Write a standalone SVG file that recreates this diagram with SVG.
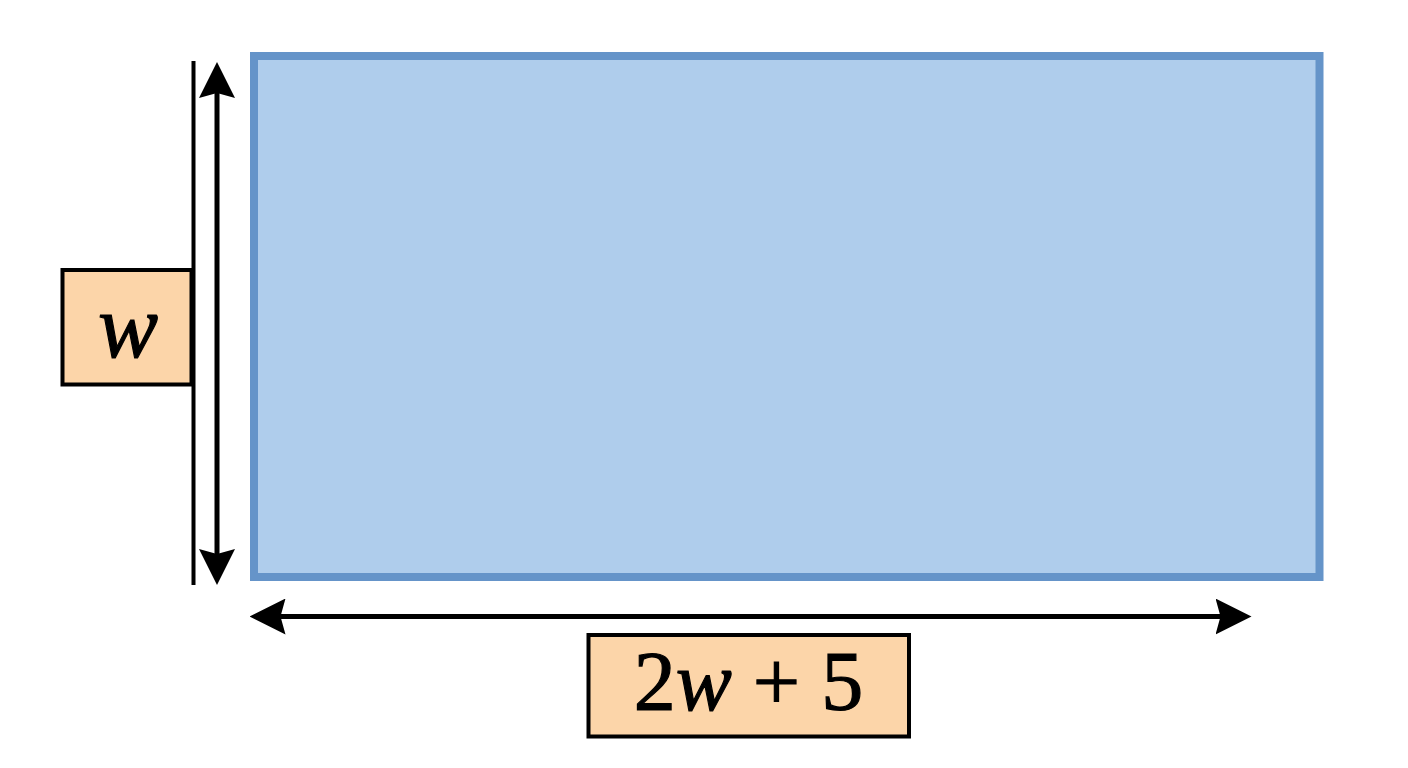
<svg xmlns="http://www.w3.org/2000/svg" width="1408" height="768" viewBox="0 0 1408 768">
<style>
.lbl{fill:#fcd5a9;stroke:#000;stroke-width:4}
.t{font-family:"Liberation Serif","DejaVu Serif",serif;fill:#000;stroke:#000;stroke-width:1.2}
.it{font-style:italic}
.ln{stroke:#000;fill:none}
</style>
<defs>
<marker id="ah" viewBox="0 0 36 36" refX="26" refY="18" markerWidth="36" markerHeight="36" markerUnits="userSpaceOnUse" orient="auto-start-reverse">
<path d="M0,0 L36,18 L0,36 L5,18 Z" fill="#000"/>
</marker>
</defs>
<rect width="1408" height="768" fill="#fff"/>
<g id="rectangle">
<rect x="254" y="56" width="1065.5" height="521" fill="#afcdec" stroke="#6594c9" stroke-width="8"/>
</g>
<g id="connectors">
<line class="ln" x1="193.5" y1="61" x2="193.5" y2="585" stroke-width="4"/>
<line class="ln" x1="217" y1="72" x2="217" y2="575" stroke-width="5" marker-start="url(#ah)" marker-end="url(#ah)"/>
<line class="ln" x1="259.5" y1="616.5" x2="1241.5" y2="616.5" stroke-width="5" marker-start="url(#ah)" marker-end="url(#ah)"/>
</g>
<g id="label-w">
<rect class="lbl" x="62.5" y="270" width="129" height="114.5"/>
<text class="t it" x="128" y="357" font-size="90" text-anchor="middle">w</text>
</g>
<g id="label-length">
<rect class="lbl" x="588.5" y="635" width="320.5" height="101.5"/>
<text class="t" x="748.5" y="710" font-size="84" text-anchor="middle">2<tspan class="it">w</tspan> + 5</text>
</g>
</svg>
